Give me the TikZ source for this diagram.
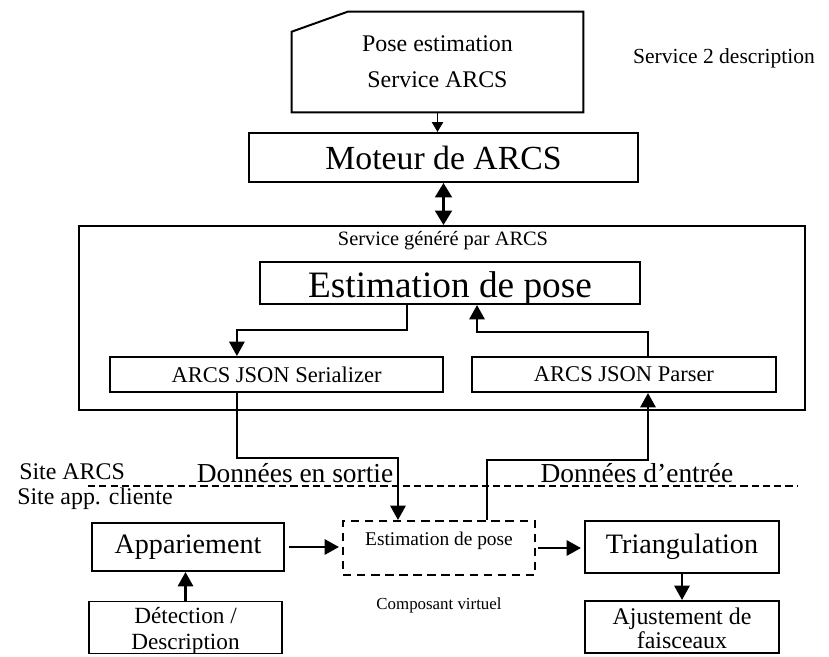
\documentclass[tikz,border=0pt]{standalone}
\usepackage{fontspec}
\setmainfont{Liberation Serif}
\usetikzlibrary{calc}
\usetikzlibrary{arrows, arrows.meta}

\tikzset{
	box/.style={draw, line width=1.4pt, inner sep=0pt, align=center},
	arr/.style={-{Triangle[length=3.6mm,width=3.8mm]}, line width=1.8pt},
	arrsmall/.style={-{Triangle[length=2.5mm,width=2.8mm]}, line width=1.4pt},
	arrboth/.style={{Triangle[length=3.6mm,width=4.2mm]}-{Triangle[length=3.6mm,width=4.2mm]}, line width=1.8pt},
}

\begin{document}
\begin{tikzpicture}[x=0.025cm,y=-0.025cm]
	\useasboundingbox (0,0) rectangle (829,657);

	%service description, top
	\node[inner sep=0pt, minimum width=7.275cm, minimum height=2.5cm, align=center, font=\fontsize{17}{25.6}\selectfont] (pse) at (437.5,62) {Pose estimation\\Service ARCS};
	\draw[line width=1.4pt] (pse.south west) -- (pse.south east) -- (pse.north east)
		-- ($(pse.north west)+(56,0)$) -- ($(pse.north west)+(0,20)$) -- cycle;
	\node[font=\fontsize{15.3}{18}\selectfont] (desc) at (724,58) {Service 2 description};

	\node[box, minimum width=9.725cm, minimum height=1.225cm, font=\fontsize{24}{28}\selectfont] (moteur) at (443.5,157.5) {Moteur de ARCS};
	\draw[arrsmall] (pse.south) -- (pse.south |- moteur.north);

	%generated service
	\node[box, minimum width=18.15cm, minimum height=4.6cm] (service) at (442,318) {};
		\node[font=\fontsize{14.5}{17}\selectfont] (gen) at (443,241) {Service généré par ARCS};
	\draw[arrboth] (moteur.south) -- (moteur.south |- service.north);

	\node[box, minimum width=9.5cm, minimum height=1.05cm, text height=0.72cm, text depth=0cm, font=\fontsize{26.5}{30}\selectfont] (est) at (450,283) {Estimation de pose};
	\node[box, minimum width=8.325cm, minimum height=0.875cm, font=\fontsize{16}{19}\selectfont] (ser) at (276.5,374.5) {ARCS JSON Serializer};
	\node[box, minimum width=7.6cm, minimum height=0.875cm, font=\fontsize{16}{19}\selectfont] (par) at (624,374.5) {ARCS JSON Parser};

	%arrows inside the service
	\draw[arr] ([xshift=-1.075cm]est.south) |- ([xshift=-0.99cm,yshift=0.65cm]ser.north) -- ([xshift=-0.99cm]ser.north);
	\draw[arr] ([xshift=0.6cm]par.north) |- ([xshift=0.675cm,yshift=-0.675cm]est.south) -- ([xshift=0.675cm]est.south);

	%site limit
	\coordinate (dl) at (88,486);
	\coordinate (dr) at (798,486);
	\draw[line width=1.2pt, dash pattern=on 5pt off 3pt] (dl) -- (dr);
		\node[anchor=west, inner sep=0pt, font=\fontsize{17}{20}\selectfont] (sarcs) at (19,472) {Site ARCS};
		\node[anchor=west, inner sep=0pt, font=\fontsize{17}{20}\selectfont] (sapp) at (17,499) {Site app. cliente};
		\node[font=\fontsize{19.5}{23}\selectfont] (dout) at (295,473) {Données en sortie};
		\node[font=\fontsize{19.5}{23}\selectfont] (din) at (637,473) {Données d'entrée};

	%client application
	\node[box, dash pattern=on 6pt off 4pt, minimum width=4.8cm, minimum height=1.35cm, text height=0.3cm, text depth=0.45cm, font=\fontsize{13.8}{16}\selectfont] (virt) at (439,548) {Estimation de pose};
		\node[font=\fontsize{12}{14}\selectfont] (comp) at (439,605) {Composant virtuel};
	\node[box, minimum width=4.8cm, minimum height=1.2cm, font=\fontsize{20}{24}\selectfont] (app) at (188,547) {Appariement};
	\node[box, minimum width=4.825cm, minimum height=1.3cm, text height=31pt, text depth=0pt, font=\fontsize{16.5}{18}\selectfont] (det) at (185.5,627.5) {Détection /\\Description};
	\node[box, minimum width=4.85cm, minimum height=1.3cm, font=\fontsize{20}{24}\selectfont] (tri) at (682,547) {Triangulation};
	\node[box, minimum width=4.85cm, minimum height=1.3cm, text height=31pt, text depth=0pt, font=\fontsize{17}{17.5}\selectfont] (ajust) at (682,627) {Ajustement de\\faisceaux};

	%arrows between sites
	\draw[arr] ([xshift=-0.99cm]ser.south) |- ([xshift=-1.025cm,yshift=1.55cm]virt.north) -- ([xshift=-1.025cm]virt.north);
	\draw[arr] ([xshift=1.2cm]virt.north) |- ([xshift=0.6cm,yshift=-1.675cm]par.south) -- ([xshift=0.6cm]par.south);

	%arrows, client side
	\draw[arr, shorten <=0.1cm, shorten >=0.075cm] (app.east) -- (app.east -| virt.west);
	\draw[arr, shorten <=0.05cm, shorten >=0.075cm] (virt.east) -- (virt.east -| tri.west);
	\draw[arr] (tri.south) -- (ajust.north);
	\draw[arr] (det.north) -- (det.north |- app.south);
\end{tikzpicture}
\end{document}
